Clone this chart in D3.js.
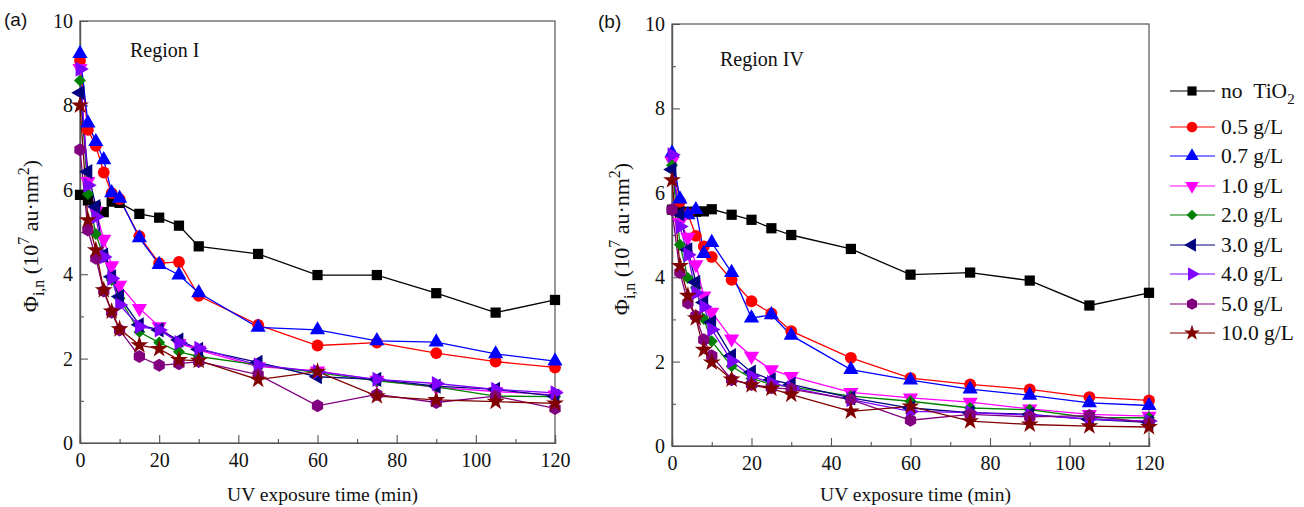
<!DOCTYPE html>
<html>
<head>
<meta charset="utf-8">
<script src="https://cdn.jsdelivr.net/npm/d3@7"></script>
<style>
  html, body { margin: 0; padding: 0; background: #fff; }
  svg text { font-family: "Liberation Serif", "Times New Roman", Times, serif; fill: #111; }
</style>
</head>
<body>
<svg id="chart" width="1304" height="507"></svg>
<script>
// Sampling times (min)
const times = [0, 2, 4, 6, 8, 10, 15, 20, 25, 30, 45, 60, 75, 90, 105, 120];

// Series labels (TiO2 loading)
const seriesNames = ["no TiO2", "0.5 g/L", "0.7 g/L", "1.0 g/L", "2.0 g/L", "3.0 g/L", "4.0 g/L", "5.0 g/L", "10.0 g/L"];

// Region I values (10^7 au·nm^2)
const regionI_noTiO2 = [5.88, 5.75, 5.6, 5.47, 5.72, 5.69, 5.43, 5.34, 5.15, 4.66, 4.48, 3.98, 3.98, 3.55, 3.09, 3.39];
const regionI_0_5 = [9.06, 7.42, 7.04, 6.41, 5.92, 5.78, 4.9, 4.26, 4.29, 3.49, 2.8, 2.31, 2.38, 2.13, 1.93, 1.79];
const regionI_0_7 = [9.23, 7.58, 7.14, 6.71, 5.93, 5.8, 4.86, 4.23, 3.98, 3.56, 2.74, 2.68, 2.42, 2.39, 2.11, 1.94];
const regionI_1_0 = [8.88, 6.2, 5.5, 4.83, 4.2, 3.74, 3.19, 2.76, 2.36, 2.2, 1.81, 1.71, 1.49, 1.32, 1.22, 1.14];
const regionI_2_0 = [8.59, 5.9, 4.95, 4.41, 3.86, 3.43, 2.63, 2.38, 2.16, 2.05, 1.85, 1.67, 1.47, 1.33, 1.11, 1.1];
const regionI_3_0 = [8.3, 6.43, 5.6, 4.45, 3.94, 3.47, 2.8, 2.68, 2.44, 2.22, 1.91, 1.57, 1.51, 1.35, 1.27, 1.11];
const regionI_4_0 = [8.86, 6.11, 5.36, 4.41, 3.9, 3.27, 2.76, 2.68, 2.38, 2.24, 1.85, 1.69, 1.51, 1.41, 1.27, 1.19];
const regionI_5_0 = [6.95, 5.05, 4.38, 3.6, 3.1, 2.68, 2.05, 1.84, 1.88, 1.93, 1.62, 0.88, 1.15, 0.96, 1.11, 0.82];
const regionI_10_0 = [8.0, 5.28, 4.57, 3.62, 3.12, 2.7, 2.32, 2.23, 1.97, 1.95, 1.5, 1.69, 1.11, 1.02, 0.98, 0.94];

// Region IV values (10^7 au·nm^2)
const regionIV_noTiO2 = [5.6, 5.55, 5.55, 5.55, 5.56, 5.61, 5.48, 5.36, 5.16, 5.0, 4.67, 4.06, 4.11, 3.92, 3.33, 3.63];
const regionIV_0_5 = [6.85, 5.79, 5.5, 4.98, 4.73, 4.48, 3.94, 3.43, 3.14, 2.72, 2.09, 1.61, 1.46, 1.34, 1.16, 1.08];
const regionIV_0_7 = [6.94, 5.85, 5.48, 5.6, 4.56, 4.82, 4.11, 3.03, 3.11, 2.62, 1.81, 1.56, 1.35, 1.2, 1.02, 0.96];
const regionIV_1_0 = [6.75, 5.3, 4.95, 4.3, 3.56, 3.17, 2.54, 2.13, 1.81, 1.65, 1.27, 1.14, 1.04, 0.88, 0.75, 0.71];
const regionIV_2_0 = [6.65, 4.77, 3.98, 3.75, 3.01, 2.48, 1.89, 1.6, 1.46, 1.4, 1.18, 1.06, 0.9, 0.86, 0.67, 0.67];
const regionIV_3_0 = [6.55, 5.5, 4.65, 3.88, 3.4, 2.93, 2.14, 1.75, 1.57, 1.46, 1.14, 0.9, 0.79, 0.75, 0.63, 0.56];
const regionIV_4_0 = [6.9, 5.2, 4.53, 3.63, 3.3, 2.76, 2.01, 1.65, 1.5, 1.38, 1.1, 0.82, 0.79, 0.73, 0.64, 0.59];
const regionIV_5_0 = [5.6, 4.11, 3.39, 3.08, 2.52, 2.14, 1.57, 1.46, 1.38, 1.35, 1.1, 0.61, 0.75, 0.69, 0.72, 0.55];
const regionIV_10_0 = [6.3, 4.27, 3.56, 3.03, 2.28, 1.98, 1.58, 1.44, 1.36, 1.22, 0.82, 0.94, 0.59, 0.51, 0.47, 0.45];

// Axis ticks
const xTicks = [0, 20, 40, 60, 80, 100, 120];
const xMinorTicks = [10, 30, 50, 70, 90, 110];
const yTicks = [0, 2, 4, 6, 8, 10];
const yMinorTicks = [1, 3, 5, 7, 9];

const SERIF = '"Liberation Serif", "Times New Roman", Times, serif';

// Hexagon marker
const symbolHexagon = {
  draw(context, size) {
    const r = Math.sqrt(size / (1.5 * Math.sqrt(3)));
    for (let i = 0; i < 6; i++) {
      const a = Math.PI / 6 + i * Math.PI / 3;
      const px = r * Math.cos(a), py = r * Math.sin(a);
      if (i === 0) context.moveTo(px, py); else context.lineTo(px, py);
    }
    context.closePath();
  }
};

// Line colour, marker shape, size and rotation per series
const styles = [
  { color: "#000000", symbol: d3.symbolSquare, size: 105, rot: 0 },
  { color: "#ff0000", symbol: d3.symbolCircle, size: 110, rot: 0 },
  { color: "#0000ff", symbol: d3.symbolTriangle, size: 100, rot: 0 },
  { color: "#ff00ff", symbol: d3.symbolTriangle, size: 100, rot: 180 },
  { color: "#008000", symbol: d3.symbolSquare, size: 72, rot: 45 },
  { color: "#000080", symbol: d3.symbolTriangle, size: 100, rot: -90 },
  { color: "#8000ff", symbol: d3.symbolTriangle, size: 100, rot: 90 },
  { color: "#800080", symbol: symbolHexagon, size: 110, rot: 0 },
  { color: "#800000", symbol: d3.symbolStar, size: 100, rot: 0 }
];

const svg = d3.select("#chart");

function drawPanel(cfg) {
  const x = d3.scaleLinear().domain([0, 120]).range([cfg.left, cfg.right]);
  const y = d3.scaleLinear().domain([0, 10]).range([cfg.bottom, cfg.top]);
  const g = svg.append("g");

  // frame
  g.append("rect")
    .attr("x", cfg.left).attr("y", cfg.top)
    .attr("width", cfg.right - cfg.left).attr("height", cfg.bottom - cfg.top)
    .attr("fill", "none").attr("stroke", "#555").attr("stroke-width", 1.2);

  // x axis with inward ticks
  const xAxis = d3.axisBottom(x).tickValues(xTicks).tickSize(-8).tickPadding(10).tickFormat(d3.format("d"));
  const gx = g.append("g").attr("transform", `translate(0,${cfg.bottom})`).call(xAxis);
  const xMinor = d3.axisBottom(x).tickValues(xMinorTicks).tickSize(-4).tickFormat("");
  const gxm = g.append("g").attr("transform", `translate(0,${cfg.bottom})`).call(xMinor);

  // y axis with inward ticks
  const yAxis = d3.axisLeft(y).tickValues(yTicks).tickSize(-8).tickPadding(7).tickFormat(d3.format("d"));
  const gy = g.append("g").attr("transform", `translate(${cfg.left},0)`).call(yAxis);
  const yMinor = d3.axisLeft(y).tickValues(yMinorTicks).tickSize(-4).tickFormat("");
  const gym = g.append("g").attr("transform", `translate(${cfg.left},0)`).call(yMinor);

  [gx, gxm, gy, gym].forEach(a => {
    a.attr("font-family", null);
    a.select(".domain").attr("stroke", "#555").attr("stroke-width", 1.2);
    a.selectAll(".tick line").attr("stroke", "#555").attr("stroke-width", 1.1);
    a.selectAll(".tick text")
      .style("font-family", SERIF)
      .style("font-size", "20px").attr("fill", "#111");
  });

  // series
  const line = d3.line().x((d, i) => x(times[i])).y(d => y(d));
  cfg.series.forEach((vals, k) => {
    const st = styles[k];
    g.append("path").datum(vals)
      .attr("d", line).attr("fill", "none")
      .attr("stroke", st.color).attr("stroke-width", 1.3);
  });
  cfg.series.forEach((vals, k) => {
    const st = styles[k];
    const sym = d3.symbol().type(st.symbol).size(st.size);
    g.append("g").selectAll("path").data(vals).join("path")
      .attr("d", sym)
      .attr("transform", (d, i) => `translate(${x(times[i])},${y(d)}) rotate(${st.rot})`)
      .attr("fill", st.color);
  });

  // region label
  g.append("text").attr("x", cfg.regionX).attr("y", cfg.regionY)
    .style("font-family", SERIF).style("font-size", "20px").text(cfg.region);

  // panel letter
  g.append("text").attr("x", cfg.letterX).attr("y", cfg.letterY)
    .style("font-family", '"Liberation Sans", Arial, sans-serif')
    .style("font-size", "19px").text(cfg.letter);

  // x axis title
  g.append("text")
    .attr("x", (cfg.left + cfg.right) / 2 + 5).attr("y", 501)
    .attr("text-anchor", "middle").style("font-family", SERIF).style("font-size", "19.5px")
    .text("UV exposure time (min)");

  // y axis title
  const yt = g.append("text")
    .attr("transform", `translate(${cfg.yTitleX},${(cfg.top + cfg.bottom) / 2 + 4}) rotate(-90)`)
    .attr("text-anchor", "middle").style("font-family", SERIF).style("font-size", "22px");
  yt.append("tspan").text("Φ");
  yt.append("tspan").attr("dy", 6).style("font-size", "16px").text("i,n");
  yt.append("tspan").attr("dy", -6).text(" (10");
  yt.append("tspan").attr("dy", -9).style("font-size", "16px").text("7");
  yt.append("tspan").attr("dy", 9).text(" au·nm");
  yt.append("tspan").attr("dy", -9).style("font-size", "16px").text("2");
  yt.append("tspan").attr("dy", 9).text(")");
}

drawPanel({
  left: 80, right: 555, top: 21, bottom: 443,
  series: [regionI_noTiO2, regionI_0_5, regionI_0_7, regionI_1_0, regionI_2_0, regionI_3_0, regionI_4_0, regionI_5_0, regionI_10_0],
  region: "Region I", regionX: 130, regionY: 57,
  letter: "(a)", letterX: 4, letterY: 26,
  yTitleX: 38
});

drawPanel({
  left: 672, right: 1149, top: 24, bottom: 446,
  series: [regionIV_noTiO2, regionIV_0_5, regionIV_0_7, regionIV_1_0, regionIV_2_0, regionIV_3_0, regionIV_4_0, regionIV_5_0, regionIV_10_0],
  region: "Region IV", regionX: 720, regionY: 66,
  letter: "(b)", letterX: 598, letterY: 28,
  yTitleX: 629
});

// legend
const legendY = [91, 127, 156, 186, 215, 245, 274, 304, 333];
const lg = svg.append("g");
seriesNames.forEach((name, k) => {
  const st = styles[k];
  const yy = legendY[k];
  lg.append("line").attr("x1", 1170).attr("x2", 1215).attr("y1", yy).attr("y2", yy)
    .attr("stroke", st.color).attr("stroke-width", 1.2);
  lg.append("path")
    .attr("d", d3.symbol().type(st.symbol).size(st.size * 0.8))
    .attr("transform", `translate(1192,${yy}) rotate(${st.rot})`)
    .attr("fill", st.color);
  const t = lg.append("text").attr("x", 1221).attr("y", yy + 7)
    .style("font-family", SERIF).style("font-size", "21.5px");
  if (k === 0) {
    t.append("tspan").text("no\u00a0\u00a0TiO");
    t.append("tspan").attr("dy", 6).style("font-size", "15px").text("2");
  } else {
    t.text(name);
  }
});
</script>
</body>
</html>
